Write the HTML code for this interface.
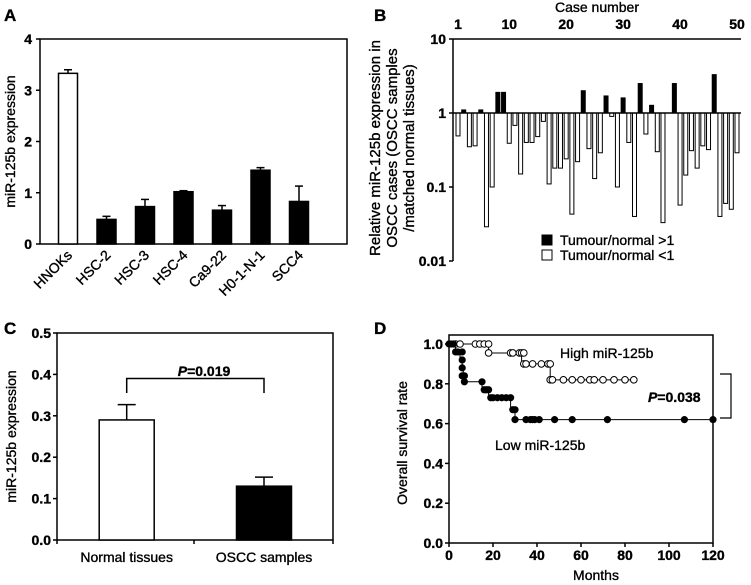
<!DOCTYPE html>
<html><head><meta charset="utf-8"><style>
body{margin:0;background:#fff}
svg{display:block;font-family:"Liberation Sans",Arial,sans-serif}
text{fill:#000;stroke:#000;stroke-width:0.35px}
</style></head><body>
<svg id="s" width="751" height="585" viewBox="0 0 751 585" xmlns="http://www.w3.org/2000/svg"></svg>
<script>
// Panel A data
const aCats=["HNOKs","HSC-2","HSC-3","HSC-4","Ca9-22","H0-1-N-1","SCC4"];
const aVals=[3.33,0.48,0.73,1.02,0.66,1.44,0.83];
const aErr=[0.07,0.06,0.14,0.02,0.09,0.05,0.3];
const aTicks=[0,1,2,3,4];
// Panel B data
const bVals=[0.49,1.1,0.35,0.36,1.1,0.029,0.1,1.9,1.9,0.39,0.68,0.15,0.4,0.4,0.48,0.77,0.11,0.18,0.18,0.24,0.043,0.22,2.0,0.33,0.13,0.29,1.7,0.9,0.1,1.6,0.4,0.04,2.5,0.52,1.27,0.3,0.033,1.0,2.5,0.057,0.145,0.31,0.18,0.36,0.32,3.3,0.04,0.06,0.05,0.29];
const bTicks=[0.01,0.1,1,10];
const bTickLabels=["0.01","0.1","1","10"];
const bCaseTicks=[1,10,20,30,40,50];
// Panel C data
const cCats=["Normal tissues","OSCC samples"];
const cVals=[0.29,0.13];
const cErr=[0.037,0.022];
const cTicks=[0,0.1,0.2,0.3,0.4,0.5];
// Panel D data
const highStepsT=[0,18,33,46,84];
const highStepsS=[1.0,0.955,0.9,0.82,0.82];
const highMarksT=[3,5,12,14,16,18,18,28,29,32,33,34,34,35,38,42,45,46,46,47,52,56,60,64,66,70,75,80,84];
const highMarksS=[1,1,1,1,1,1,0.955,0.955,0.955,0.955,0.955,0.955,0.9,0.9,0.9,0.9,0.9,0.9,0.82,0.82,0.82,0.82,0.82,0.82,0.82,0.82,0.82,0.82,0.82];
const lowStepsT=[0,3,5,6,6.5,7,15,18,28,30,120];
const lowStepsS=[1.0,0.96,0.92,0.88,0.84,0.81,0.77,0.73,0.67,0.62,0.62];
const lowMarksT=[0,1,2,3,4,6,6,6,6,7,7,15,16,17,18,19,20,22,24,26,28,29,30,30,35,37,38,39,41,48,56,72,107,120];
const lowMarksS=[1,1,1,0.96,0.96,0.96,0.92,0.88,0.84,0.84,0.81,0.81,0.77,0.77,0.77,0.73,0.73,0.73,0.73,0.73,0.73,0.67,0.67,0.62,0.62,0.62,0.62,0.62,0.62,0.62,0.62,0.62,0.62,0.62];
const dXTicks=[0,20,40,60,80,100,120];
const dYTicks=[0,0.2,0.4,0.6,0.8,1.0];

const S=document.getElementById('s');
const NS="http://www.w3.org/2000/svg";
function mk(tag,at,txt){const e=document.createElementNS(NS,tag);for(const k in at)e.setAttribute(k,at[k]);if(txt!==undefined)e.textContent=txt;S.appendChild(e);return e;}
function line(x1,y1,x2,y2,w){return mk('line',{x1,y1,x2,y2,stroke:'#000','stroke-width':w||1.5});}
function txt(x,y,t,sz,anchor,extra){const a={x,y,'font-size':sz||13,'text-anchor':anchor||'middle'};Object.assign(a,extra||{});return mk('text',a,t);}

// ---------- Panel A ----------
let e=txt(4,21,"A",17,"start",{'font-weight':'bold'});
const aL=40,aR=347,aT=39,aB=244;
const ay=v=>aB-(v/4)*(aB-aT);
const ax=i=>68+i*38.5;
e=mk('rect',{x:aL,y:aT,width:aR-aL,height:aB-aT,fill:'none',stroke:'#000','stroke-width':1.5});

aTicks.forEach(t=>{line(aL-4,ay(t),aL,ay(t));e=txt(aL-8,ay(t)+5,String(t),14,"end",{'font-weight':'bold'});});
e=txt(0,0,"miR-125b expression",14,"middle",{transform:`translate(15,${(aT+aB)/2}) rotate(-90)`});

aVals.forEach((v,i)=>{
  const x=ax(i);
  line(x,ay(v),x,ay(v+aErr[i]),1.5);line(x-4,ay(v+aErr[i]),x+4,ay(v+aErr[i]),1.5);
  e=mk('rect',{x:x-9.5,y:ay(v),width:19,height:aB-ay(v),fill:i===0?'#fff':'#000',stroke:'#000','stroke-width':1.5});
  
  e=txt(0,0,aCats[i],14,"end",{transform:`translate(${x+5},${aB+12}) rotate(-45)`});
  
});

// ---------- Panel B ----------
e=txt(374,21,"B",17,"start",{'font-weight':'bold'});
const bL=453,b1=113,dec=74;
const by=v=>b1-Math.log10(v)*dec;
const bx=c=>458+(c-1)*(279/49);
line(bL,by(10),741,by(10),1.5);
line(bL,by(10),bL,by(0.01),1.5);
bTicks.forEach((t,i)=>{line(bL-4,by(t),bL,by(t));e=txt(bL-7,by(t)+5,bTickLabels[i],14,"end",{'font-weight':'bold'});});
bCaseTicks.forEach(c=>{e=txt(bx(c),29,String(c),14,"middle",{'font-weight':'bold'});});
e=txt(597,12,"Case number",14,"middle");
bVals.forEach((v,i)=>{
  const x=bx(i+1),y=by(v),hi=v>=1;
  e=mk('rect',{x:x-2,y:Math.min(y,b1),width:4,height:Math.abs(y-b1),fill:hi?'#000':'#fff',stroke:'#000','stroke-width':1});
  
});
line(bL,b1,741,b1,1.5);
["Relative miR-125b expression in","OSCC cases (OSCC samples","/matched normal tissues)"].forEach((t,i)=>{
  e=txt(0,0,t,15,"middle",{transform:`translate(${380+i*17},148) rotate(-90)`});
  
});
e=mk('rect',{x:542,y:235,width:10,height:10,fill:'#000',stroke:'#000'});
e=txt(560,245,"Tumour/normal >1",14,"start");
e=mk('rect',{x:542,y:250,width:10,height:10,fill:'#fff',stroke:'#000'});
e=txt(560,260,"Tumour/normal <1",14,"start");

// ---------- Panel C ----------
e=txt(4,334,"C",17,"start",{'font-weight':'bold'});
const cL=57,cR=333,cT=333,cB=540;
const cy=v=>cB-(v/0.5)*(cB-cT);
const cx=i=>126.7+i*137.3;
e=mk('rect',{x:cL,y:cT,width:cR-cL,height:cB-cT,fill:'none',stroke:'#000','stroke-width':1.5});

cTicks.forEach(t=>{line(cL-4,cy(t),cL,cy(t));e=txt(cL-6,cy(t)+5,t.toFixed(1),14,"end",{'font-weight':'bold'});});
[cL,194,cR].forEach(x=>line(x,cB,x,cB+4));
e=txt(0,0,"miR-125b expression",14,"middle",{transform:`translate(16,${(cT+cB)/2}) rotate(-90)`});

cVals.forEach((v,i)=>{
  const x=cx(i);
  line(x,cy(v),x,cy(v+cErr[i]));line(x-9,cy(v+cErr[i]),x+9,cy(v+cErr[i]));
  e=mk('rect',{x:x-27.5,y:cy(v),width:55,height:cB-cy(v),fill:i===0?'#fff':'#000',stroke:'#000','stroke-width':1.5});
  
  e=txt(x,562,cCats[i],14,"middle");
});
e=mk('path',{d:`M${cx(0)},${cy(0.355)}V${cy(0.39)}H${cx(1)}V${cy(0.355)}`,fill:'none',stroke:'#000','stroke-width':1.5});

e=mk('text',{x:204,y:376,'font-size':14,'text-anchor':'middle','font-weight':'bold'});
e.innerHTML='<tspan font-style="italic">P</tspan>=0.019';


// ---------- Panel D ----------
e=txt(374,334,"D",17,"start",{'font-weight':'bold'});
const dL=449,dR=713,dT=335,dB=543;
const dx=t=>dL+(t/120)*(dR-dL);
const dy=s=>dB-s*(dB-344);
e=mk('rect',{x:dL,y:dT,width:dR-dL,height:dB-dT,fill:'none',stroke:'#000','stroke-width':1.5});

dYTicks.forEach(t=>{line(dL-4,dy(t),dL,dy(t));e=txt(dL-6,dy(t)+5,t.toFixed(1),14,"end",{'font-weight':'bold'});});
dXTicks.forEach(t=>{line(dx(t),dB,dx(t),dB+4);e=txt(dx(t),560,String(t),14,"middle",{'font-weight':'bold'});});
e=txt(596,580,"Months",14,"middle");
e=txt(0,0,"Overall survival rate",14,"middle",{transform:`translate(407,443) rotate(-90)`});

function stepPath(T,Sv){let d=`M${dx(T[0])},${dy(Sv[0])}`;for(let i=1;i<T.length;i++){d+=`H${dx(T[i])}V${dy(Sv[i])}`;}return d;}
e=mk('path',{d:stepPath(highStepsT,highStepsS),fill:'none',stroke:'#000','stroke-width':1});

e=mk('path',{d:stepPath(lowStepsT,lowStepsS),fill:'none',stroke:'#000','stroke-width':1});

highMarksT.forEach((t,i)=>{e=mk('circle',{cx:dx(t),cy:dy(highMarksS[i]),r:3.3,fill:'#fff',stroke:'#000','stroke-width':1});});
lowMarksT.forEach((t,i)=>{e=mk('circle',{cx:dx(t),cy:dy(lowMarksS[i]),r:3.6,fill:'#000'});});
e=txt(560,358,"High miR-125b",14,"start");
e=txt(495,450,"Low miR-125b",14,"start");
e=mk('text',{x:648,y:402,'font-size':14,'text-anchor':'start','font-weight':'bold'});
e.innerHTML='<tspan font-style="italic">P</tspan>=0.038';

e=mk('path',{d:'M720,374H731V418H720',fill:'none',stroke:'#000','stroke-width':1.2});

</script>
</body></html>
